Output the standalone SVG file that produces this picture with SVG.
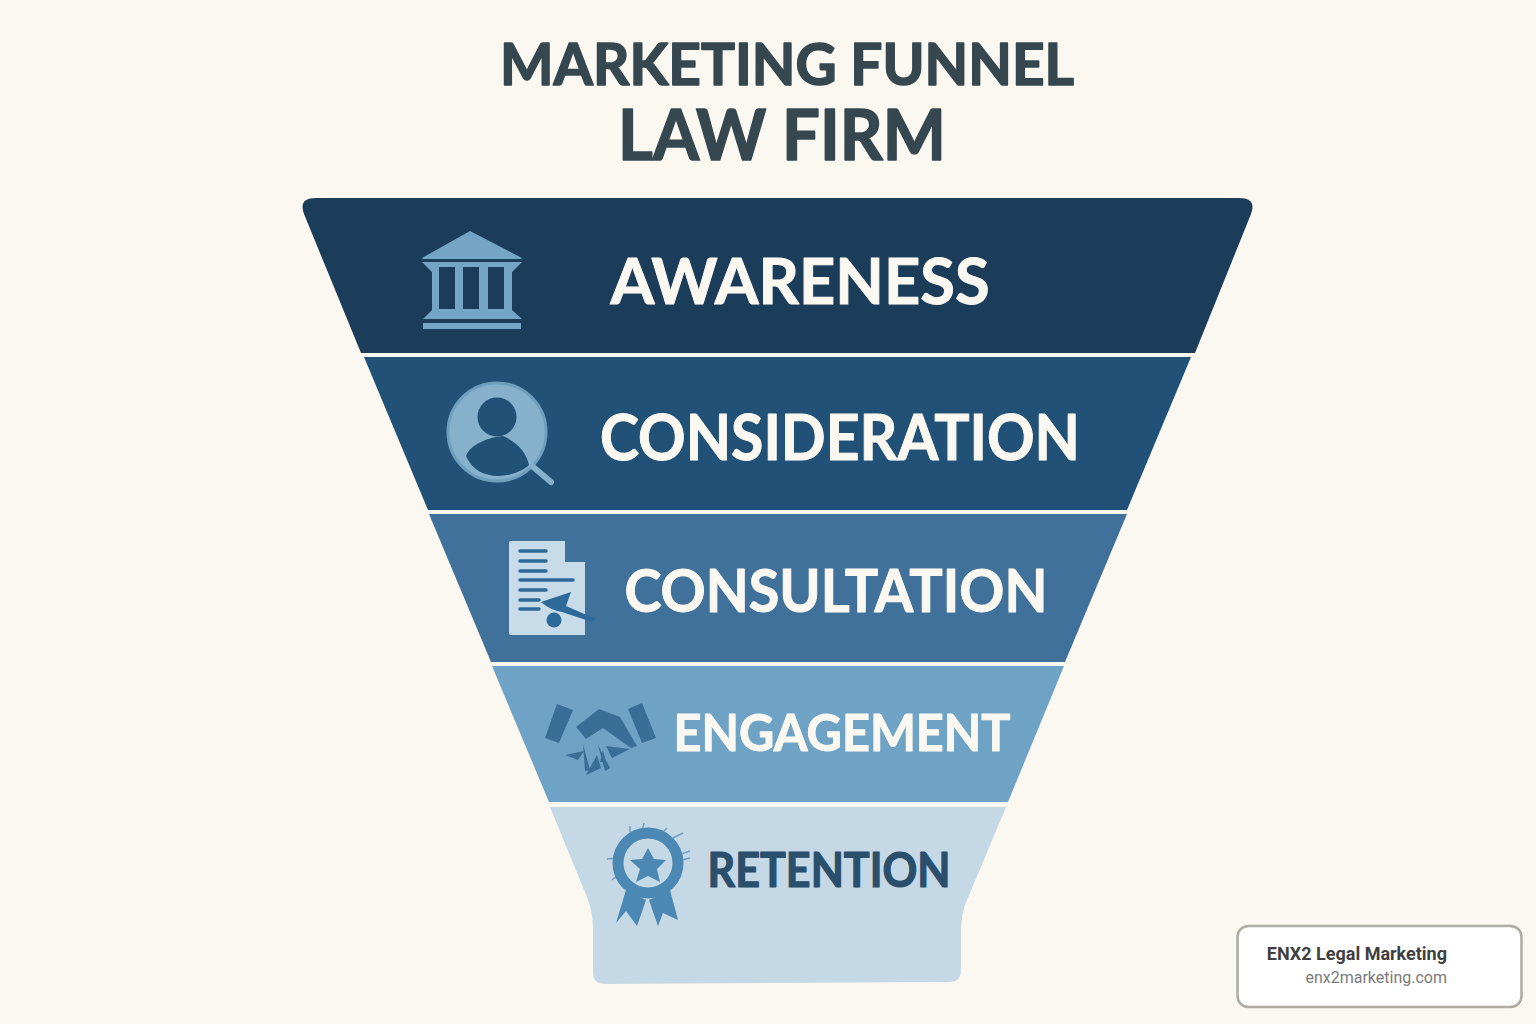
<svg xmlns="http://www.w3.org/2000/svg" width="1536" height="1024" viewBox="0 0 1536 1024">
<style>
.t{font-family:"Lato","Noto Sans","Liberation Sans",sans-serif;font-weight:700;text-anchor:middle;stroke-linejoin:round}
.title{fill:#36474f;stroke:#36474f;stroke-width:1.600}
.w{fill:#fbf8f1;stroke:#fbf8f1;stroke-width:1}
</style>
<rect width="1536" height="1024" fill="#fbf8f1"/>
<g id="title">
<text class="t title" x="787" y="85" font-size="58" textLength="574" lengthAdjust="spacingAndGlyphs">MARKETING FUNNEL</text>
<text class="t title" x="782" y="160" font-size="70" textLength="328" lengthAdjust="spacingAndGlyphs">LAW FIRM</text>
</g>
<g id="awareness">
<path d="M316 198H1239Q1257 198 1251 214L1195 353H361L304 214Q298 198 316 198Z" fill="#1b3d5a"/>
<path fill="#74a5c7" d="M470 231L522 258L521 259H423L422 258Z M422 262H522L512 272V310L522 319H423L432 310V272Z M423 323H521V329H423Z"/>
<path fill="#1b3d5a" d="M439 267H455V309H439Z M463 267H479V309H463Z M488 267H504V309H488Z"/>
<text class="t w" x="800" y="304" font-size="64" textLength="379" lengthAdjust="spacingAndGlyphs">AWARENESS</text>
</g>
<g id="consideration">
<path d="M364 357H1191L1127 510H428Z" fill="#215176"/>
<circle cx="497" cy="432" r="49" fill="#86b1cd" stroke="#6f9fbf" stroke-width="3"/>
<path d="M532 466L551 482" stroke="#86b1cd" stroke-width="6" stroke-linecap="round"/>
<circle cx="497" cy="417" r="19.500" fill="#215176"/>
<path d="M466 456C470 444 490 437 503 436C517 442 526 452 529 465C515 478 478 484 466 456Z" fill="#215176"/>
<text class="t w" x="840" y="460" font-size="63" textLength="480" lengthAdjust="spacingAndGlyphs">CONSIDERATION</text>
</g>
<g id="consultation">
<path d="M429 514H1127L1065 662H491Z" fill="#3f719b"/>
<path d="M511 541H565V562H585V635H511Q509 635 509 633V543Q509 541 511 541Z" fill="#c7dbe9"/>
<g stroke="#2e6a99" stroke-width="3.500" stroke-linecap="round">
<path d="M520 551H546M520 561H546M520 571H546M520 580H573M520 590H546M520 600H539M520 609H539"/>
</g>
<path d="M541 602L571 592L566 606L596 619L592 622L562 612Q550 610 541 602Z" fill="#2e6a99"/>
<circle cx="554" cy="620" r="7.500" fill="#2e6a99"/>
<text class="t w" x="836" y="612" font-size="59" textLength="423" lengthAdjust="spacingAndGlyphs">CONSULTATION</text>
</g>
<g id="engagement">
<path d="M492 666H1064L1008 802H549Z" fill="#6fa3c5"/>
<path fill="#396f97" d="M557 704L573 710L559 743L545 738Z M642 703L656 738L642 743L628 709Z M576 727L599 709L620 717L637 746L631 748L603 728L586 739Z"/>
<path fill="#396f97" d="M565 755L584 751L578 760Z M583 744L590 770L585 771Z M598 745L610 768L605 771Z M586 775L597 755L601 768Z M606 746L630 749L612 758Z M603 750L606 762L600 762Z"/>
<text class="t w" x="842" y="751" font-size="51" textLength="337" lengthAdjust="spacingAndGlyphs">ENGAGEMENT</text>
</g>
<g id="retention">
<path d="M550 807H1006L967 900Q961 914 961 930V970Q961 982 949 982L605 984Q593 984 593 972V930Q593 912 587 897Z" fill="#c5d8e6"/>
<path fill="#4c88b4" d="M626 890L646 900L637 926L626 911L616 923Z M649 900L670 890L678 920L663 913L658 926Z"/>
<circle cx="648" cy="863" r="30" fill="none" stroke="#4c88b4" stroke-width="11"/>
<path fill="#4c88b4" d="M648 848L654 859L666 860L657 869L660 882L648 876L636 882L640 869L630 860L642 859Z"/>
<path d="M642 831L644 823M663 832L667 828M673 838L683 833M681 854L690 851M682 860L690 858M619 858L607 859M612 880L617 876M630 832L630 826" stroke="#4c88b4" stroke-width="1.500" fill="none" opacity=".7"/>
<text class="t" fill="#2a4f6c" stroke="#2a4f6c" stroke-width="1.200" x="829" y="887" font-size="47" textLength="243" lengthAdjust="spacingAndGlyphs">RETENTION</text>
</g>
<g id="badge">
<rect x="1237.500" y="926" width="284" height="81" rx="11" fill="#ffffff" stroke="#adaba3" stroke-width="2.500"/>
<text font-family="Roboto,'Liberation Sans',sans-serif" font-weight="700" font-size="18" fill="#3f3f3f" text-anchor="end" x="1447" y="960">ENX2 Legal Marketing</text>
<text font-family="Roboto,'Liberation Sans',sans-serif" font-size="16" fill="#7a7a7a" text-anchor="end" x="1447" y="983">enx2marketing.com</text>
</g>
<g id="connectors"/>
</svg>
